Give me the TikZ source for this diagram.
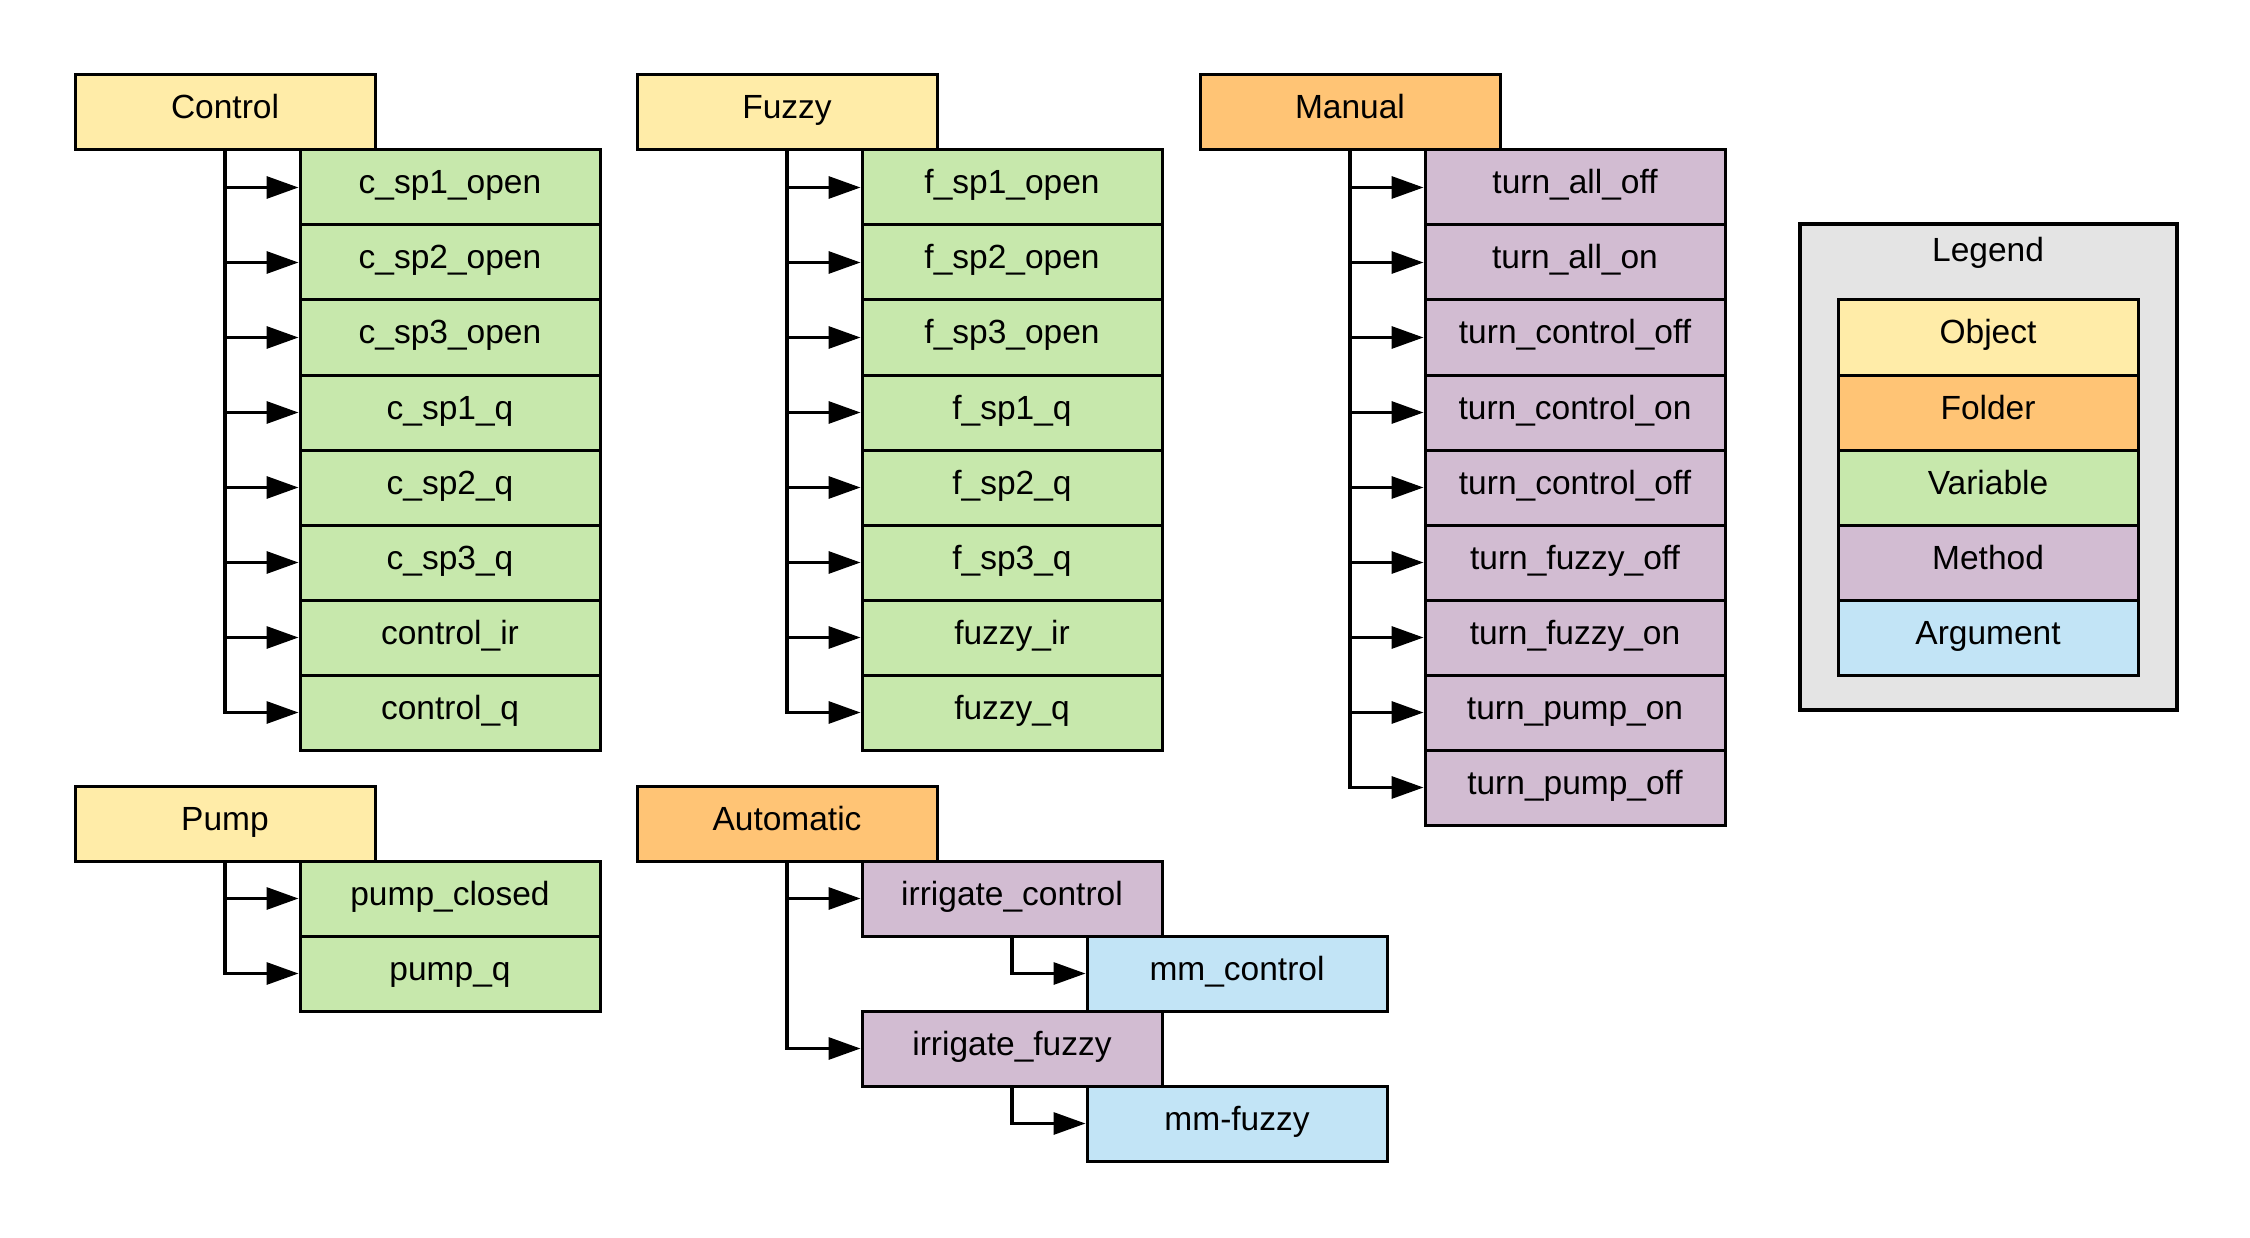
\documentclass[tikz,border=0pt]{standalone}
\usepackage{fontspec}
\setmainfont{Liberation Sans}
\usetikzlibrary{arrows.meta}
\definecolor{objc}{HTML}{FFECA8}
\definecolor{fldc}{HTML}{FFC475}
\definecolor{varc}{HTML}{C7E8AC}
\definecolor{methc}{HTML}{D2BCD2}
\definecolor{argc}{HTML}{C2E4F6}
\definecolor{legc}{HTML}{E4E4E4}
\begin{document}
\begin{tikzpicture}[x=1pt,y=-1pt,
  box/.style={draw=black, line width=3pt, minimum width=300pt, minimum height=75pt,
    inner sep=0pt, font=\fontsize{33.5}{40}\selectfont, text=black,
    text height=24pt, text depth=11pt},
  obj/.style={box, fill=objc},
  fld/.style={box, fill=fldc},
  var/.style={box, fill=varc},
  meth/.style={box, fill=methc},
  arg/.style={box, fill=argc},
  conn/.style={line width=3.2pt, -{Triangle[length=32pt,width=22pt]}},
  legbox/.style={draw=black, line width=3.5pt, fill=legc, minimum width=377pt,
    minimum height=486pt, inner sep=0pt},
  legtitle/.style={font=\fontsize{33.5}{40}\selectfont, text=black, inner sep=0pt,
    text height=24pt, text depth=11pt}
]
\useasboundingbox (0,0) rectangle (2250,1238);

% ---- Control ----
\node[obj] (ctrl) at (225,112.5) {Control};
\foreach \t [count=\i from 0] in {c\_sp1\_open,c\_sp2\_open,c\_sp3\_open,c\_sp1\_q,c\_sp2\_q,c\_sp3\_q,control\_ir,control\_q}{
  \node[var] (c\i) at (450,187.5+75*\i) {\t};
  \draw[conn] (ctrl.south) |- (c\i.west);
}

% ---- Fuzzy ----
\node[obj] (fuz) at (787,112.5) {Fuzzy};
\foreach \t [count=\i from 0] in {f\_sp1\_open,f\_sp2\_open,f\_sp3\_open,f\_sp1\_q,f\_sp2\_q,f\_sp3\_q,fuzzy\_ir,fuzzy\_q}{
  \node[var] (f\i) at (1012,187.5+75*\i) {\t};
  \draw[conn] (fuz.south) |- (f\i.west);
}

% ---- Manual ----
\node[fld] (man) at (1350,112.5) {Manual};
\foreach \t [count=\i from 0] in {turn\_all\_off,turn\_all\_on,turn\_control\_off,turn\_control\_on,turn\_control\_off,turn\_fuzzy\_off,turn\_fuzzy\_on,turn\_pump\_on,turn\_pump\_off}{
  \node[meth] (m\i) at (1575,187.5+75*\i) {\t};
  \draw[conn] (man.south) |- (m\i.west);
}

% ---- Pump ----
\node[obj] (pump) at (225,823.5) {Pump};
\node[var] (p0) at (450,898.5) {pump\_closed};
\node[var] (p1) at (450,973.5) {pump\_q};
\draw[conn] (pump.south) |- (p0.west);
\draw[conn] (pump.south) |- (p1.west);

% ---- Automatic ----
\node[fld] (auto) at (787,823.5) {Automatic};
\node[meth] (ic) at (1012,898.5) {irrigate\_control};
\node[arg] (mmc) at (1237,973.5) {mm\_control};
\node[meth] (ifz) at (1012,1048.5) {irrigate\_fuzzy};
\node[arg] (mmf) at (1237,1123.5) {mm-fuzzy};
\draw[conn] (auto.south) |- (ic.west);
\draw[conn] (auto.south) |- (ifz.west);
\draw[conn] (ic.south) |- (mmc.west);
\draw[conn] (ifz.south) |- (mmf.west);

% ---- Legend ----
\node[legbox] (leg) at (1988.5,467) {};
\node[legtitle] (legt) at (1988,255) {Legend};
\node[obj]  (l0) at (1988,337.5) {Object};
\node[fld]  (l1) at (1988,412.5) {Folder};
\node[var]  (l2) at (1988,487.5) {Variable};
\node[meth] (l3) at (1988,562.5) {Method};
\node[arg]  (l4) at (1988,637.5) {Argument};
\end{tikzpicture}
\end{document}
